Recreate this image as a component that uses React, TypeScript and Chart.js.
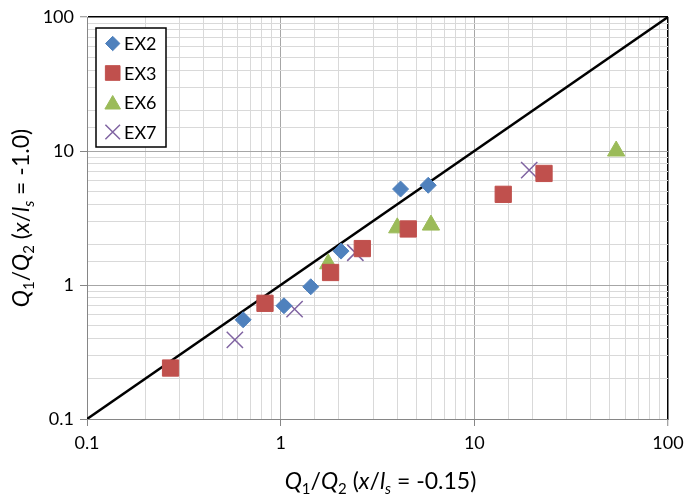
import React, { useEffect, useRef } from 'react';
import { Chart, registerables } from 'chart.js';
import { drawPoint } from 'chart.js/helpers';

Chart.register(...registerables);

// Measured ratios Q1/Q2 at x/ls = -0.15 (x) and x/ls = -1.0 (y)
const ex2X = [0.64, 1.04, 1.43, 2.05, 4.16, 5.78];
const ex2Y = [0.55, 0.7, 0.97, 1.79, 5.2, 5.55];

const ex3X = [0.27, 0.83, 1.81, 2.64, 4.56, 14.1, 22.9];
const ex3Y = [0.24, 0.73, 1.24, 1.87, 2.62, 4.75, 6.8];

const ex6X = [1.76, 4.0, 5.97, 54];
const ex6Y = [1.44, 2.67, 2.8, 10.0];

const ex7X = [0.58, 1.18, 2.43, 19.2];
const ex7Y = [0.39, 0.66, 1.74, 7.2];

// 1:1 reference line
const diagonal = [0.1, 100];

const seriesNames = ['EX2', 'EX3', 'EX6', 'EX7'];
const axisMin = 0.1;
const axisMax = 100;

const FONT = 'Lato, Carlito, "Liberation Sans", sans-serif';

const markerStyles = [
  { pointStyle: 'rectRot', radius: 8, color: '#4F81BD', borderWidth: 1 },
  { pointStyle: 'rect', radius: 11.5, color: '#C0504D', borderWidth: 1 },
  { pointStyle: 'triangle', radius: 10, color: '#9BBB59', borderWidth: 1 },
  { pointStyle: 'crossRot', radius: 11.5, color: '#8064A2', borderWidth: 1.5 },
];

const toPoints = (xs: number[], ys: number[]) => xs.map((x, i) => ({ x, y: ys[i] }));

const isMajor = (v: number) => {
  const l = Math.log10(v);
  return Math.abs(l - Math.round(l)) < 1e-6;
};

const fmt = (v: number) => (v >= 1 ? String(Math.round(v)) : String(Number(v.toPrecision(1))));

type Seg = { t: string; i?: boolean; sub?: boolean };

const xTitle: Seg[] = [
  { t: 'Q', i: true }, { t: '1', sub: true }, { t: '/' }, { t: 'Q', i: true }, { t: '2', sub: true },
  { t: ' (' }, { t: 'x', i: true }, { t: '/' }, { t: 'l', i: true }, { t: 's', i: true, sub: true },
  { t: ' = -0.15)' },
];
const yTitle: Seg[] = [
  { t: 'Q', i: true }, { t: '1', sub: true }, { t: '/' }, { t: 'Q', i: true }, { t: '2', sub: true },
  { t: ' (' }, { t: 'x', i: true }, { t: '/' }, { t: 'l', i: true }, { t: 's', i: true, sub: true },
  { t: ' = -1.0)' },
];

const TITLE_SIZE = 23;
const SUB_SIZE = 15;
const TICK_SIZE = 18;
const LEGEND_SIZE = 18;

function segFont(s: Seg) {
  return `${s.i ? 'italic ' : ''}${s.sub ? SUB_SIZE : TITLE_SIZE}px ${FONT}`;
}

// Draws a run of mixed italic / subscript text centred on (0, 0) at the alphabetic baseline
function drawRich(ctx: CanvasRenderingContext2D, segs: Seg[]) {
  let total = 0;
  const widths = segs.map((s) => {
    ctx.font = segFont(s);
    const w = ctx.measureText(s.t).width;
    total += w;
    return w;
  });
  let x = -total / 2;
  ctx.textAlign = 'left';
  ctx.textBaseline = 'alphabetic';
  ctx.fillStyle = '#000';
  segs.forEach((s, idx) => {
    ctx.font = segFont(s);
    ctx.fillText(s.t, x, s.sub ? 5 : 0);
    x += widths[idx];
  });
}

const decorPlugin = {
  id: 'decor',
  afterDraw(chart: any) {
    const ctx: CanvasRenderingContext2D = chart.ctx;
    const area = chart.chartArea;

    // Axis titles
    ctx.save();
    ctx.translate((area.left + area.right) / 2 + 3, 489);
    drawRich(ctx, xTitle);
    ctx.restore();

    ctx.save();
    ctx.translate(29, (area.top + area.bottom) / 2);
    ctx.rotate(-Math.PI / 2);
    drawRich(ctx, yTitle);
    ctx.restore();

    // Legend box inside the plot
    const bx = 96;
    const by = 28;
    const bw = 70;
    const bh = 119;
    ctx.save();
    ctx.fillStyle = '#fff';
    ctx.fillRect(bx, by, bw, bh);
    ctx.lineWidth = 1.5;
    ctx.strokeStyle = '#000';
    ctx.strokeRect(bx, by, bw, bh);
    seriesNames.forEach((name, i) => {
      const m = markerStyles[i];
      const cy = by + 15.5 + i * 29.5;
      ctx.fillStyle = m.color;
      ctx.strokeStyle = m.color;
      ctx.lineWidth = m.borderWidth;
      drawPoint(ctx, { pointStyle: m.pointStyle as any, radius: m.radius * 0.9, rotation: 0, borderWidth: m.borderWidth }, 112.7, cy + (m.pointStyle === 'triangle' ? 2 : 0));
      ctx.fillStyle = '#000';
      ctx.font = `${LEGEND_SIZE}px ${FONT}`;
      ctx.textAlign = 'left';
      ctx.textBaseline = 'middle';
      ctx.fillText(name, 124, cy + 1);
    });
    ctx.restore();
  },
};

function gridColor(ctx: any) {
  const v = ctx.tick?.value;
  if (v === undefined) return '#d9d9d9';
  if (Math.abs(v - axisMax) < 1e-9) return '#000';
  if (Math.abs(v - axisMin) < 1e-9) return '#868686';
  return isMajor(v) ? '#a6a6a6' : '#d9d9d9';
}
function gridWidth(ctx: any) {
  const v = ctx.tick?.value;
  if (v !== undefined && Math.abs(v - axisMax) < 1e-9) return 1.5;
  return 1;
}
function tickMarkColor(ctx: any) {
  const v = ctx.tick?.value;
  return v !== undefined && isMajor(v) ? '#868686' : 'rgba(0,0,0,0)';
}

function axisOptions(size: { width?: number; height?: number }) {
  return {
    type: 'logarithmic' as const,
    min: axisMin,
    max: axisMax,
    border: { display: true, color: '#868686', width: 1 },
    grid: {
      color: gridColor,
      lineWidth: gridWidth,
      drawTicks: true,
      tickLength: 7,
      tickColor: tickMarkColor,
      tickWidth: 1,
    },
    ticks: {
      autoSkip: false,
      maxRotation: 0,
      minRotation: 0,
      padding: 6,
      color: '#000',
      font: { family: FONT, size: TICK_SIZE },
      callback: (value: any) => (isMajor(Number(value)) ? fmt(Number(value)) : ''),
    },
    afterFit(scale: any) {
      if (size.width !== undefined) scale.width = size.width;
      if (size.height !== undefined) scale.height = size.height;
      // labels may overhang the plot edges; the layout padding already leaves room
      scale.paddingLeft = 0;
      scale.paddingRight = 0;
      scale.paddingTop = 0;
      scale.paddingBottom = 0;
    },
  };
}

export default function App() {
  const canvasRef = useRef<HTMLCanvasElement | null>(null);

  useEffect(() => {
    if (!canvasRef.current) return;
    const series = [
      toPoints(ex2X, ex2Y),
      toPoints(ex3X, ex3Y),
      toPoints(ex6X, ex6Y),
      toPoints(ex7X, ex7Y),
    ];
    const scatterSets = series.map((data, i) => ({
      type: 'scatter' as const,
      label: seriesNames[i],
      data,
      pointStyle: markerStyles[i].pointStyle,
      pointRadius: markerStyles[i].radius,
      pointBackgroundColor: markerStyles[i].color,
      pointBorderColor: markerStyles[i].color,
      pointBorderWidth: markerStyles[i].borderWidth,
      showLine: false,
    }));
    const chart = new Chart(canvasRef.current, {
      type: 'scatter',
      data: {
        datasets: [
          ...scatterSets,
          {
            type: 'line' as const,
            label: '1:1',
            data: diagonal.map((v) => ({ x: v, y: v })),
            borderColor: '#000',
            borderWidth: 2.5,
            pointRadius: 0,
            showLine: true,
            fill: false,
          },
        ] as any,
      },
      options: {
        responsive: false,
        animation: false,
        layout: { padding: { top: 17, right: 16, left: 0, bottom: 0 } },
        plugins: {
          legend: { display: false },
          tooltip: { enabled: false },
        },
        scales: {
          x: { ...axisOptions({ height: 80 }), position: 'bottom' },
          y: { ...axisOptions({ width: 87 }), position: 'left' },
        } as any,
      },
      plugins: [decorPlugin],
    });
    return () => chart.destroy();
  }, []);

  return (
    <div style={{ position: 'fixed', left: 0, top: 0, width: 684, height: 499, background: '#fff' }}>
      <canvas ref={canvasRef} width={684} height={499} />
    </div>
  );
}
